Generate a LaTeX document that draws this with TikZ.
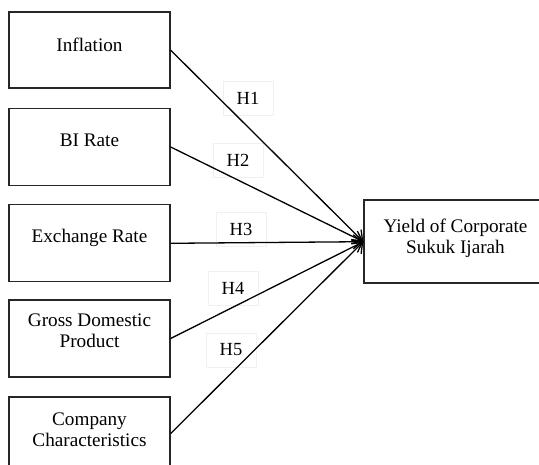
\documentclass[tikz,border=0pt]{standalone}
\usepackage{fontspec}
\setmainfont{Liberation Serif}
\usetikzlibrary{arrows.meta}
\begin{document}
\begin{tikzpicture}[x=1pt,y=-1pt,
  varbox/.style={draw=black!85,line width=1.4pt,minimum width=161pt,inner sep=0pt},
  boxtext/.style={font=\fontsize{19.2}{21.3}\selectfont,align=center,inner sep=0pt},
  hlabel/.style={draw=black!6,line width=0.5pt,minimum width=50pt,minimum height=34pt,inner sep=0pt,font=\fontsize{18.5}{20}\selectfont},
  link/.style={line width=1.3pt,-{Straight Barb[length=9pt,width=14pt,line width=1.3pt]}}]
\useasboundingbox (0,0) rectangle (539,465);
\clip (0,0) rectangle (539,465);
% boxes
\node[varbox,minimum height=76pt] (b1) at (89.5,50.2) {};
\node[varbox,minimum height=77pt] (b2) at (89.5,147) {};
\node[varbox,minimum height=77pt] (b3) at (89.5,243.3) {};
\node[varbox,minimum height=77pt] (b4) at (89.5,338.5) {};
\node[varbox,minimum height=73pt] (b5) at (89.5,433.5) {};
\node[draw=black!85,line width=1.4pt,minimum width=183pt,minimum height=83pt,inner sep=0pt] (y) at (455.5,241.7) {};
% texts
\node[boxtext,anchor=base] (t1) at (89.5,51.5) {Inflation};
\node[boxtext,anchor=base] (t2) at (89.5,146.7) {BI Rate};
\node[boxtext,anchor=base] (t3) at (89.5,242.7) {Exchange Rate};
\node[boxtext] (t4) at (89.5,331) {Gross Domestic\\Product};
\node[boxtext] (t5) at (89.5,430) {Company\\Characteristics};
\node[boxtext] (ty) at (455.5,238.5) {Yield of Corporate\\Sukuk Ijarah};
% labels
\node[hlabel] (h1) at (248,98) {H1};
\node[hlabel] (h2) at (238,160) {H2};
\node[hlabel] (h3) at (241,229) {H3};
\node[hlabel] (h4) at (233,288) {H4};
\node[hlabel] (h5) at (231,350) {H5};
% links
\draw[link] (b1.east) -- (y.west);
\draw[link] (b2.east) -- (y.west);
\draw[link] (b3.east) -- (y.west);
\draw[link] (b4.east) -- (y.west);
\draw[link] (b5.east) -- (y.west);
\end{tikzpicture}
\end{document}
